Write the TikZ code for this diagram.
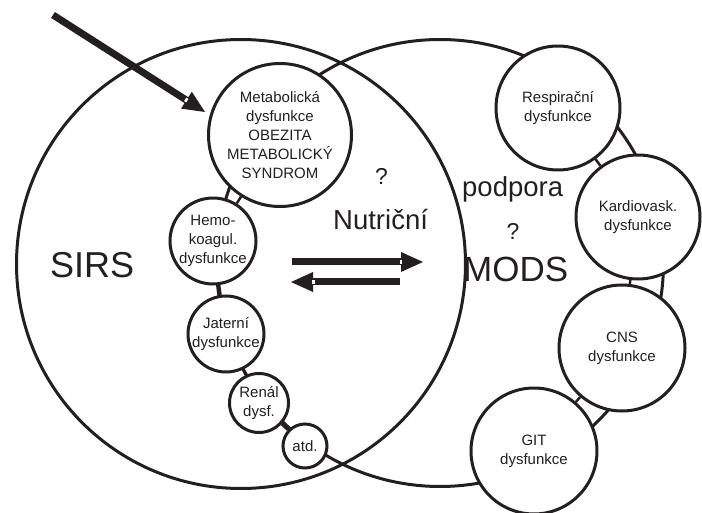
\documentclass[tikz,border=0pt]{standalone}
\usepackage{fontspec}
\setmainfont{Liberation Sans}
\usetikzlibrary{calc}
\definecolor{ink}{RGB}{35,31,32}
\begin{document}
\begin{tikzpicture}[x=1pt,y=-1pt,
  big/.style={circle,draw=ink,line width=3pt,minimum size=#1,inner sep=0pt},
  organ/.style={circle,draw=ink,fill=white,line width=3pt,minimum size=#1,inner sep=0pt,align=center,font=\fontsize{15}{18.8}\selectfont,text=ink},
  link/.style={draw=ink,line width=2.5pt},
  lbl/.style={text=ink,inner sep=0pt,anchor=base west},
  qmark/.style={text=ink,inner sep=0pt,anchor=base,font=\fontsize{23}{23}\selectfont},
  shaft/.style={draw=ink,line width=7pt},
  head/.style={fill=ink},
  notch/.style={white,line width=4pt},
]
\useasboundingbox (0,0) rectangle (702,513);
% big circles
\node[big=449pt] (sirs) at (241,264) {};
\node[big=447pt] (mods) at (440,263) {};
% SIRS side organs
\node[organ=143pt] (metab) at (280,135) {Metabolická\\dysfunkce\\OBEZITA\\METABOLICKÝ\\SYNDROM};
\node[organ=86pt] (hemo) at (213,241) {Hemo-\\koagul.\\dysfunkce};
\node[organ=76pt] (jater) at (226,334) {Jaterní\\dysfunkce};
\node[organ=59pt] (renal) at (259,403) {Renál\\dysf.};
\node[organ=44pt] (atd) at (305,446) {atd.};
% MODS side organs
\node[organ=124pt] (resp) at (558,108) {Respirační\\dysfunkce};
\node[organ=124pt] (kardio) at (638,217) {Kardiovask.\\dysfunkce};
\node[organ=126pt] (cns) at (622,348) {CNS\\dysfunkce};
\node[organ=126pt] (git) at (534,451) {GIT\\dysfunkce};
% chain links
\draw[link] (metab) -- (hemo);
\draw[link] (hemo) -- (jater);
\draw[link] (jater) -- (renal);
\draw[link] (renal) -- (atd);
\draw[link] (resp) -- (kardio);
\draw[link] (kardio) -- (cns);
\draw[link] (cns) -- (git);
% labels
\node[lbl,font=\fontsize{36}{36}\selectfont] (tsirs) at (50,278) {SIRS};
\node[lbl,font=\fontsize{35}{35}\selectfont] (tmods) at (463,282) {MODS};
\node[lbl,font=\fontsize{27.5}{27.5}\selectfont] (tnut) at (333,230) {Nutriční};
\node[lbl,font=\fontsize{27.5}{27.5}\selectfont] (tpod) at (462,197) {podpora};
\node[qmark] (q1) at (381.5,185) {?};
\node[qmark] (q2) at (513,240) {?};
% big input arrow
\coordinate (a0) at (53,15);
\coordinate (a1) at (205,112);
\coordinate (ab) at ($(a1)!22pt!(a0)$);
\draw[shaft] (a0) -- ($(a1)!20pt!(a0)$);
\fill[head] (a1) -- ($(ab)!10pt!90:(a1)$) -- ($(ab)!10pt!-90:(a1)$) -- cycle;
\draw[notch] ($(a1)!21pt!(a0)$) -- ($(a1)!23.5pt!(a0)$);
% exchange arrows
\coordinate (r0) at (292,262);
\coordinate (r1) at (423,262);
\coordinate (rb) at ($(r1)!22pt!(r0)$);
\draw[shaft] (r0) -- ($(r1)!20pt!(r0)$);
\fill[head] (r1) -- ($(rb)!10pt!90:(r1)$) -- ($(rb)!10pt!-90:(r1)$) -- cycle;
\draw[notch] ($(r1)!21pt!(r0)$) -- ($(r1)!23.5pt!(r0)$);
\coordinate (l0) at (400,282);
\coordinate (l1) at (291,282);
\coordinate (lb) at ($(l1)!22pt!(l0)$);
\draw[shaft] (l0) -- ($(l1)!20pt!(l0)$);
\fill[head] (l1) -- ($(lb)!10pt!90:(l1)$) -- ($(lb)!10pt!-90:(l1)$) -- cycle;
\draw[notch] ($(l1)!21pt!(l0)$) -- ($(l1)!23.5pt!(l0)$);
\end{tikzpicture}
\end{document}
